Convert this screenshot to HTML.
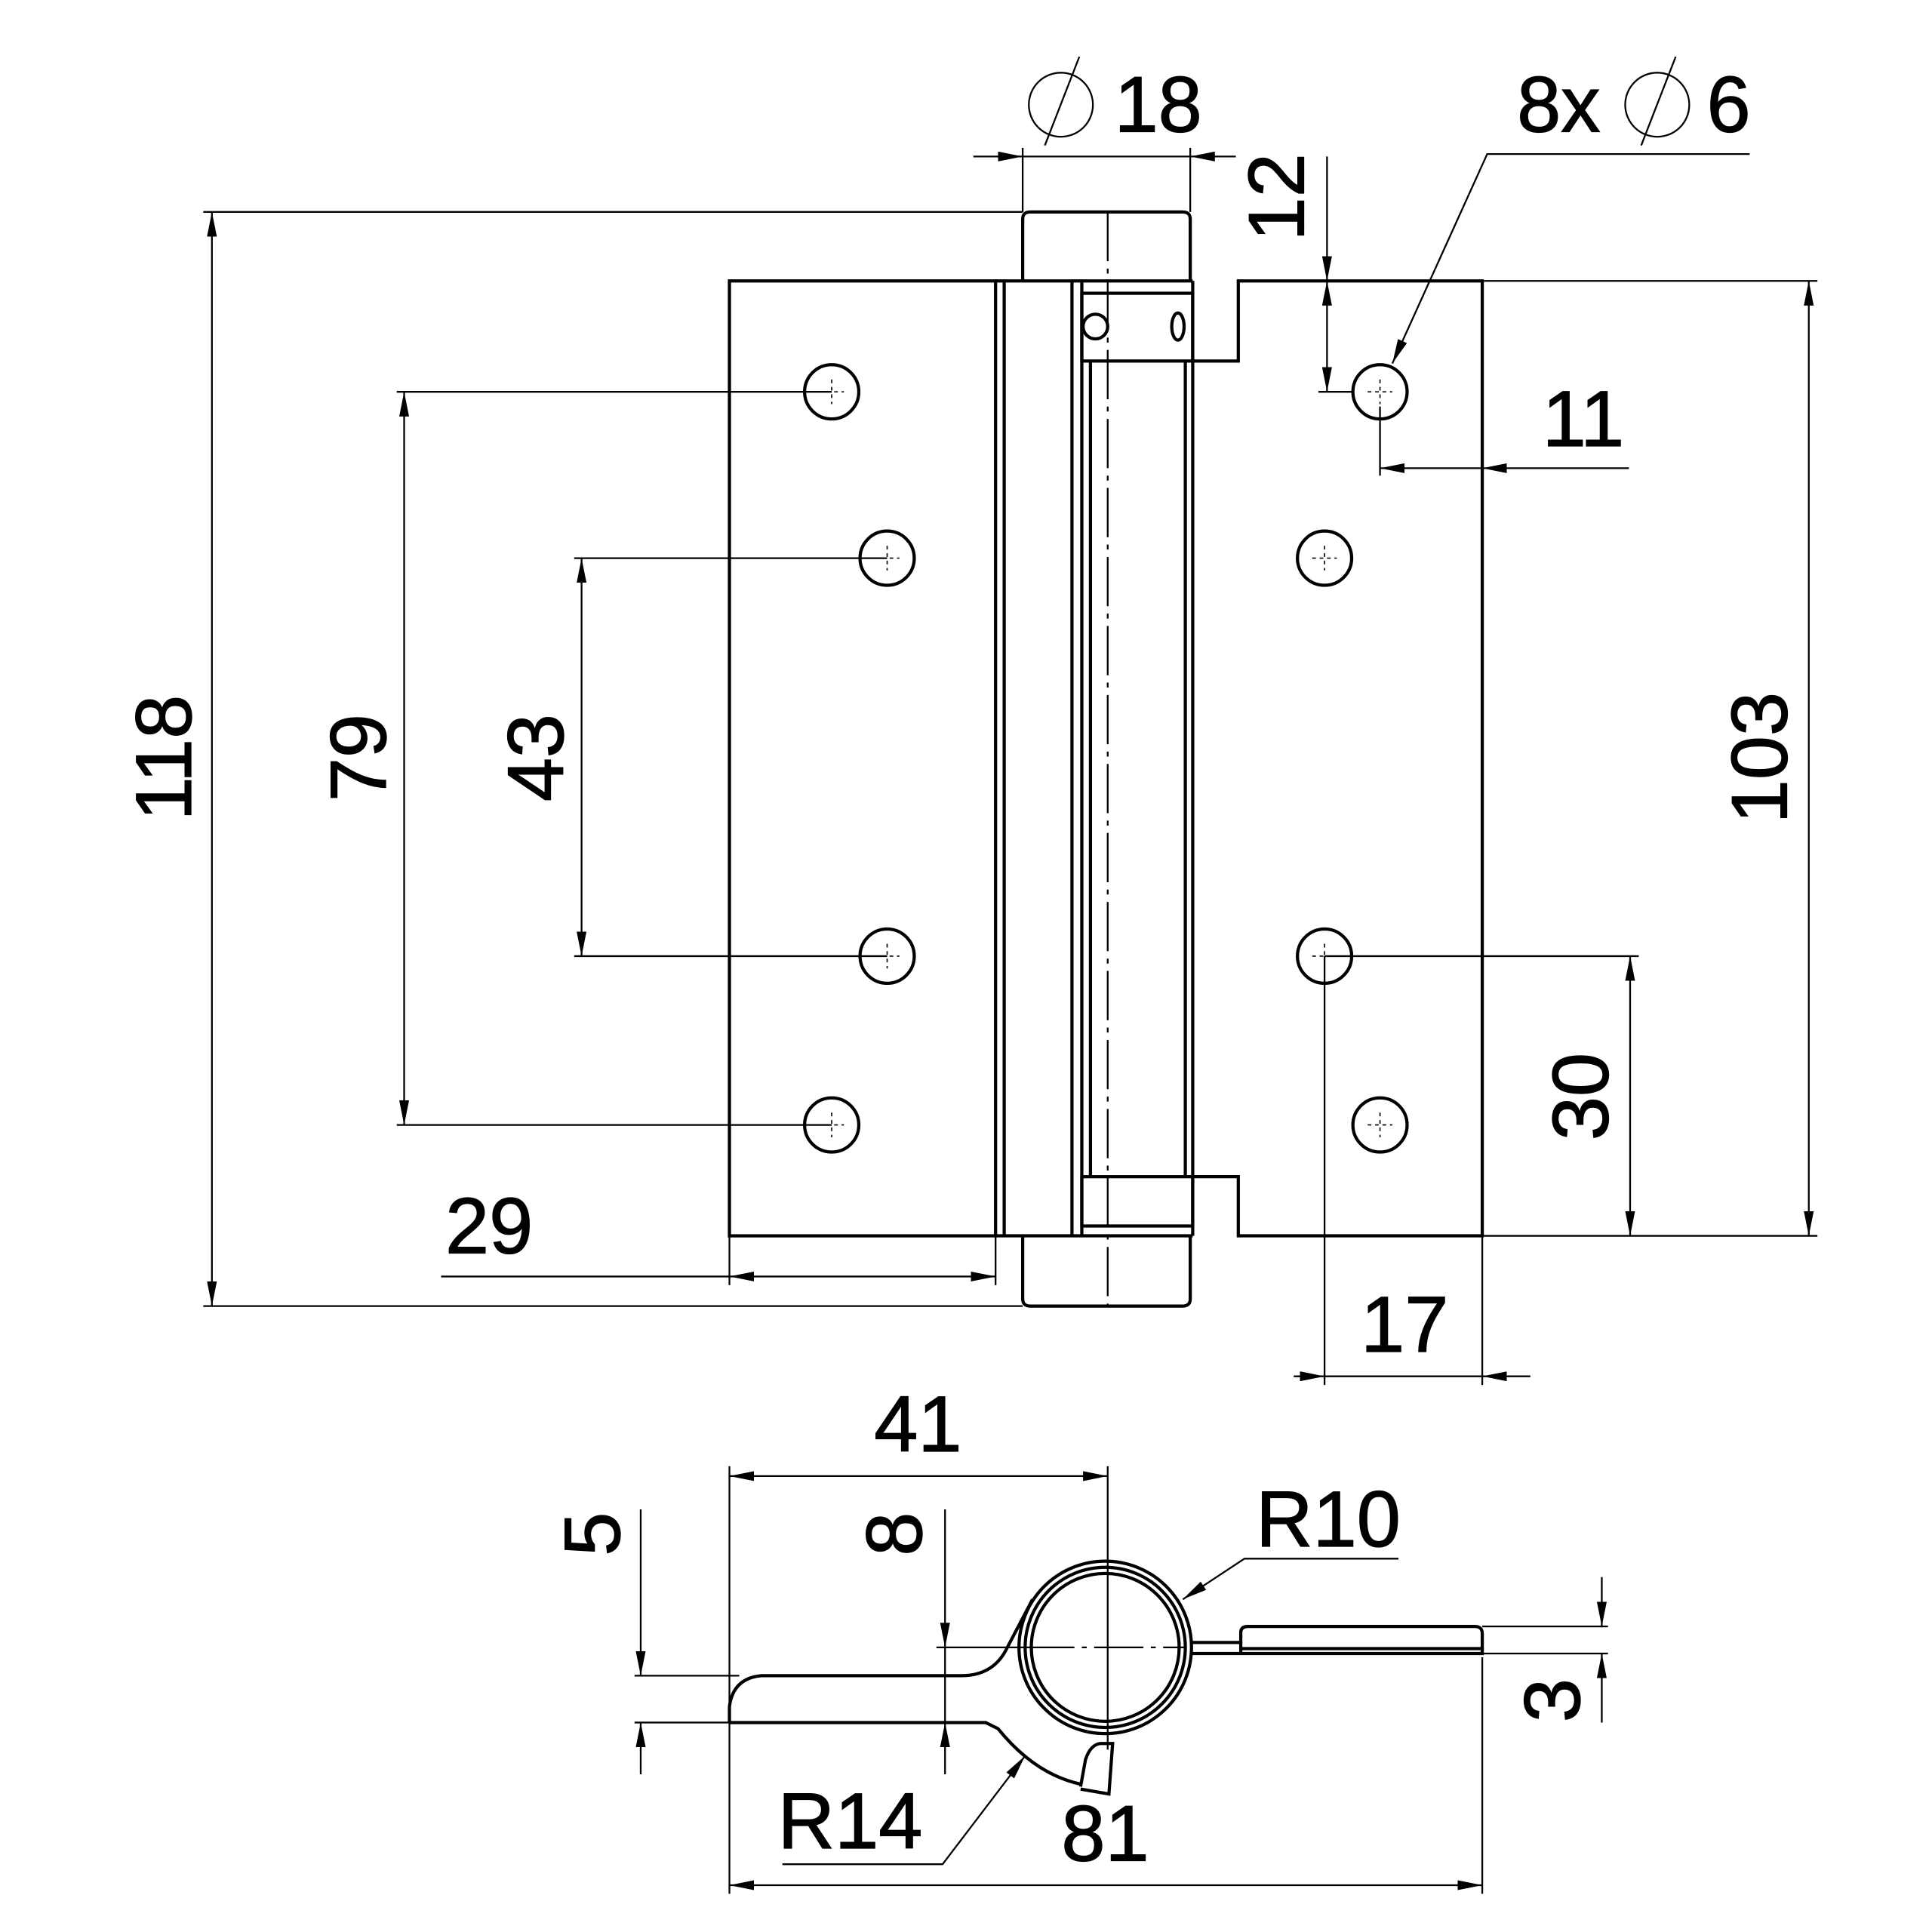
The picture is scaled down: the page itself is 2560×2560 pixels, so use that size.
<!DOCTYPE html>
<html><head><meta charset="utf-8"><style>
html,body{margin:0;padding:0;background:#fff;}
svg{display:block}
text{font-family:"Liberation Sans",sans-serif;font-size:64px;fill:#000;stroke:#000;stroke-width:0.8px;}
</style></head><body>
<svg width="2560" height="2560" viewBox="0 0 1568 1568" xmlns="http://www.w3.org/2000/svg">
<defs>
<marker id="a" viewBox="0 0 20 8" refX="20" refY="4" markerWidth="20" markerHeight="8" markerUnits="userSpaceOnUse" orient="auto-start-reverse"><path d="M0,0 L20,4 L0,8z" fill="#000"/></marker>
</defs>
<g fill="none" stroke="#000" stroke-width="2.6">
<rect x="592" y="228" width="216" height="775"/>
<line x1="815" y1="228" x2="815" y2="1003"/>
<line x1="808" y1="228" x2="968" y2="228"/>
<line x1="808" y1="1003" x2="968" y2="1003"/>
<line x1="870" y1="228" x2="870" y2="1003"/>
<line x1="878" y1="228" x2="878" y2="1003"/>
<line x1="885" y1="293" x2="885" y2="955"/>
<line x1="962" y1="293" x2="962" y2="955"/>
<line x1="968" y1="228" x2="968" y2="1003"/>
<path d="M830,228 V178 Q830,172 836,172 H960 Q966,172 966,178 V228"/>
<path d="M830,1003 V1054 Q830,1060 836,1060 H960 Q966,1060 966,1054 V1003"/>
<rect x="878" y="238" width="90" height="55"/>
<circle cx="889" cy="265" r="10"/>
<ellipse cx="956" cy="265" rx="5" ry="11"/>
<rect x="878" y="955" width="90" height="40"/>
<path d="M968,293 H1005 V228 H1203 V1003 H1005 V955 H968"/>
<circle cx="675" cy="318" r="22"/><circle cx="720" cy="453" r="22"/><circle cx="720" cy="776" r="22"/><circle cx="675" cy="913" r="22"/>
<circle cx="1120" cy="318" r="22"/><circle cx="1075" cy="453" r="22"/><circle cx="1075" cy="776" r="22"/><circle cx="1120" cy="913" r="22"/>
</g>
<g fill="none" stroke="#000" stroke-width="1" stroke-dasharray="3,3">
<path d="M675,308v20M665,318h20 M720,443v20M710,453h20 M720,766v20M710,776h20 M675,903v20M665,913h20 M1120,308v20M1110,318h20 M1075,443v20M1065,453h20 M1075,766v20M1065,776h20 M1120,903v20M1110,913h20"/>
</g>
<g fill="none" stroke="#000" stroke-width="1.4">
<line x1="899" y1="172" x2="899" y2="1060" stroke-dasharray="40,6,4,6"/>
<line x1="165" y1="172" x2="830" y2="172"/><line x1="165" y1="1060" x2="830" y2="1060"/>
<line x1="172" y1="172" x2="172" y2="1060" marker-start="url(#a)" marker-end="url(#a)"/>
<line x1="322" y1="318" x2="675" y2="318"/><line x1="322" y1="913" x2="675" y2="913"/>
<line x1="328" y1="318" x2="328" y2="913" marker-start="url(#a)" marker-end="url(#a)"/>
<line x1="466" y1="453" x2="720" y2="453"/><line x1="466" y1="776" x2="720" y2="776"/>
<line x1="472" y1="453" x2="472" y2="776" marker-start="url(#a)" marker-end="url(#a)"/>
<line x1="592" y1="1003" x2="592" y2="1043"/><line x1="808" y1="1003" x2="808" y2="1043"/>
<line x1="358" y1="1036" x2="592" y2="1036"/>
<line x1="592" y1="1036" x2="808" y2="1036" marker-start="url(#a)" marker-end="url(#a)"/>
<line x1="830" y1="120" x2="830" y2="172"/><line x1="966" y1="120" x2="966" y2="172"/>
<line x1="790" y1="127" x2="830" y2="127" marker-end="url(#a)"/>
<line x1="1003" y1="127" x2="966" y2="127" marker-end="url(#a)"/>
<line x1="830" y1="127" x2="966" y2="127"/>
<circle cx="861" cy="85" r="26"/><line x1="848" y1="118" x2="876" y2="46"/>
<line x1="1077" y1="127" x2="1077" y2="228" marker-end="url(#a)"/>
<line x1="1077" y1="228" x2="1077" y2="318" marker-start="url(#a)" marker-end="url(#a)"/>
<line x1="1070" y1="318" x2="1098" y2="318"/>
<polyline points="1420,125 1207,125 1130,295" marker-end="url(#a)"/>
<circle cx="1345" cy="85" r="26"/><line x1="1332" y1="118" x2="1360" y2="46"/>
<line x1="1120" y1="330" x2="1120" y2="386"/>
<line x1="1203" y1="380" x2="1120" y2="380" marker-end="url(#a)"/>
<line x1="1322" y1="380" x2="1203" y2="380" marker-end="url(#a)"/>
<line x1="1203" y1="228" x2="1475" y2="228"/><line x1="1203" y1="1003" x2="1475" y2="1003"/>
<line x1="1468" y1="228" x2="1468" y2="1003" marker-start="url(#a)" marker-end="url(#a)"/>
<line x1="1075" y1="776" x2="1330" y2="776"/>
<line x1="1323" y1="776" x2="1323" y2="1003" marker-start="url(#a)" marker-end="url(#a)"/>
<line x1="1075" y1="776" x2="1075" y2="1124"/><line x1="1203" y1="1003" x2="1203" y2="1124"/>
<line x1="1050" y1="1117" x2="1075" y2="1117" marker-end="url(#a)"/>
<line x1="1242" y1="1117" x2="1203" y2="1117" marker-end="url(#a)"/>
<line x1="1075" y1="1117" x2="1203" y2="1117"/>
<line x1="592" y1="1190" x2="592" y2="1537"/><line x1="899" y1="1190" x2="899" y2="1420"/><line x1="1203" y1="1345" x2="1203" y2="1537"/>
<line x1="592" y1="1198" x2="899" y2="1198" marker-start="url(#a)" marker-end="url(#a)"/>
<line x1="592" y1="1530" x2="1203" y2="1530" marker-start="url(#a)" marker-end="url(#a)"/>
<line x1="832" y1="1337" x2="962" y2="1337" stroke-dasharray="40,6,4,6"/>
<line x1="515" y1="1360" x2="600" y2="1360"/><line x1="515" y1="1398" x2="592" y2="1398"/>
<line x1="520" y1="1225" x2="520" y2="1360" marker-end="url(#a)"/>
<line x1="520" y1="1440" x2="520" y2="1398" marker-end="url(#a)"/>
<line x1="760" y1="1337" x2="832" y2="1337"/>
<line x1="767" y1="1225" x2="767" y2="1337" marker-end="url(#a)"/>
<line x1="767" y1="1440" x2="767" y2="1398" marker-end="url(#a)"/>
<line x1="767" y1="1337" x2="767" y2="1398"/>
<line x1="1203" y1="1320" x2="1305" y2="1320"/><line x1="1203" y1="1342" x2="1305" y2="1342"/>
<line x1="1300" y1="1280" x2="1300" y2="1320" marker-end="url(#a)"/>
<line x1="1300" y1="1398" x2="1300" y2="1342" marker-end="url(#a)"/>
<polyline points="1135,1265 1010,1265 960,1298" marker-end="url(#a)"/>
<polyline points="635,1513 765,1513 832,1425" marker-end="url(#a)"/>
</g>
<g fill="none" stroke="#000" stroke-width="2.6">
<circle cx="897" cy="1337" r="60"/><circle cx="897" cy="1337" r="65"/><circle cx="897" cy="1337" r="70"/>
<path d="M592,1398 V1385 Q595,1362 618,1360 H780 Q805,1360 816,1340 L838,1298"/>
<path d="M592,1398 H800 L810,1403 Q840,1440 877,1448"/>
<path d="M877,1450 L881,1428 Q885,1416 893,1415 H903 L900,1456 L877,1452"/>
<path d="M967,1333 H1007 M967,1342 H1007"/>
<path d="M1007,1342 V1325 Q1007,1320 1013,1320 H1197 Q1203,1320 1203,1326 V1342 H1007 M1007,1338 H1203"/>
</g>
<g>
<text x="940" y="107" text-anchor="middle">18</text>
<text x="1265" y="107" text-anchor="middle">8x</text>
<text x="1403" y="107" text-anchor="middle">6</text>
<text x="1285" y="362" text-anchor="middle">11</text>
<text x="397" y="1017" text-anchor="middle">29</text>
<text x="1140" y="1097" text-anchor="middle">17</text>
<text x="745" y="1178" text-anchor="middle">41</text>
<text x="1078" y="1255" text-anchor="middle">R10</text>
<text x="690" y="1500" text-anchor="middle">R14</text>
<text x="897" y="1510" text-anchor="middle">81</text>
<text transform="translate(155,615) rotate(-90)" text-anchor="middle">118</text>
<text transform="translate(313,615) rotate(-90)" text-anchor="middle">79</text>
<text transform="translate(457,615) rotate(-90)" text-anchor="middle">43</text>
<text transform="translate(1058,160) rotate(-90)" text-anchor="middle">12</text>
<text transform="translate(1450,615) rotate(-90)" text-anchor="middle">103</text>
<text transform="translate(1305,890) rotate(-90)" text-anchor="middle">30</text>
<text transform="translate(503,1245) rotate(-90)" text-anchor="middle">5</text>
<text transform="translate(748,1245) rotate(-90)" text-anchor="middle">8</text>
<text transform="translate(1282,1380) rotate(-90)" text-anchor="middle">3</text>
</g>
</svg>
</body></html>
